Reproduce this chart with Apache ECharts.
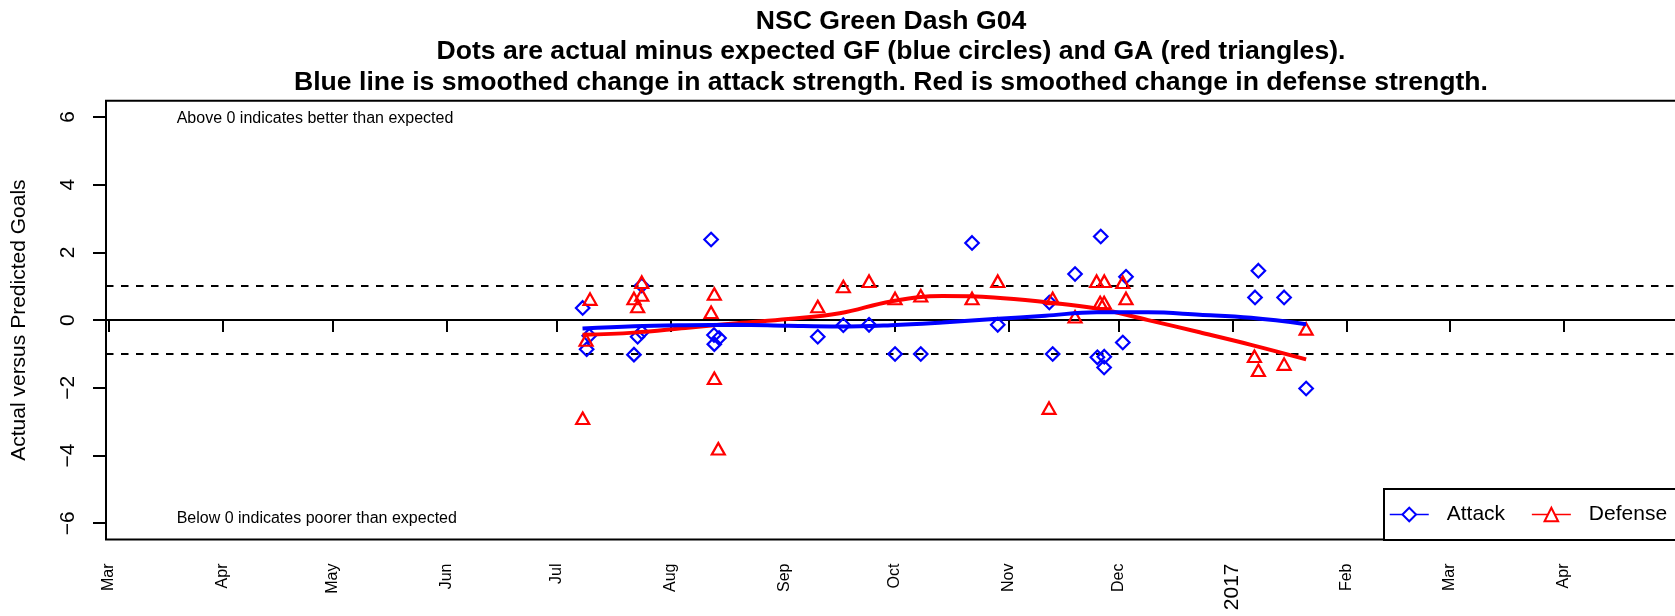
<!DOCTYPE html>
<html><head><meta charset="utf-8">
<script src="https://cdn.jsdelivr.net/npm/echarts@6/dist/echarts.min.js"></script>
<style>html,body{margin:0;padding:0;background:#fff}#c{width:1675px;height:616px}</style>
</head><body><div id="c"></div>
<script>
// ---------- data ----------
const titleLines = [
  'NSC Green Dash G04',
  'Dots are actual minus expected GF (blue circles) and GA (red triangles).',
  'Blue line is smoothed change in attack strength. Red is smoothed change in defense strength.'
];
const yAxisTitle = 'Actual versus Predicted Goals';
const noteAbove = 'Above 0 indicates better than expected';
const noteBelow = 'Below 0 indicates poorer than expected';
const seriesNames = ['Attack', 'Defense'];

const monthTickDates = ['2016-03-01','2016-04-01','2016-05-01','2016-06-01','2016-07-01','2016-08-01',
  '2016-09-01','2016-10-01','2016-11-01','2016-12-01','2017-01-01','2017-02-01','2017-03-01','2017-04-01'];
const monthTickLabels = ['Mar','Apr','May','Jun','Jul','Aug','Sep','Oct','Nov','Dec','2017','Feb','Mar','Apr'];
const yTicks = [-6, -4, -2, 0, 2, 4, 6];
const refLines = [0, 1, -1];

const attackDates = ['2016-07-08 01:00','2016-07-09 20:00','2016-07-09 03:00','2016-07-24 03:00','2016-07-24 03:00',
  '2016-07-23 00:00','2016-07-22 00:00','2016-08-12 00:00','2016-08-12 19:00','2016-08-14 04:00','2016-08-12 21:00',
  '2016-09-10 01:00','2016-09-17 00:00','2016-09-24 00:00','2016-10-01 02:00','2016-10-08 02:00','2016-10-22 01:00',
  '2016-10-29 01:00','2016-11-12 02:00','2016-11-13 00:00','2016-11-19 02:00','2016-11-26 02:00','2016-11-25 04:00',
  '2016-11-27 01:00','2016-11-27 00:00','2016-12-02 23:00','2016-12-02 02:00','2017-01-08 00:00','2017-01-07 02:00',
  '2017-01-15 00:00','2017-01-21 00:00'];
const attackValues = [0.36,-0.46,-0.86,1.02,-0.36,-0.49,-1.02,2.38,-0.44,-0.53,-0.71,
  -0.49,-0.15,-0.14,-1.00,-1.00,2.28,-0.14,0.52,-1.00,1.36,2.47,-1.10,-1.08,-1.40,1.28,-0.66,1.46,0.67,0.67,-2.02];

const defenseDates = ['2016-07-10 01:00','2016-07-08 23:00','2016-07-08 01:00','2016-07-24 03:00','2016-07-22 00:00',
  '2016-07-24 03:00','2016-07-23 00:00','2016-08-12 21:00','2016-08-12 00:00','2016-08-12 21:00','2016-08-13 23:00',
  '2016-09-10 01:00','2016-09-17 00:00','2016-09-24 00:00','2016-10-01 02:00','2016-10-08 02:00','2016-10-22 01:00',
  '2016-10-29 01:00','2016-11-13 00:00','2016-11-12 00:00','2016-11-19 02:00','2016-11-24 23:00','2016-11-27 01:00',
  '2016-11-25 22:00','2016-11-27 00:00','2016-12-02 02:00','2016-12-02 23:00','2017-01-06 22:00','2017-01-08 00:00',
  '2017-01-15 00:00','2017-01-21 00:00'];
const defenseValues = [0.62,-0.59,-2.90,1.12,0.64,0.74,0.40,0.77,0.23,-1.72,-3.80,
  0.40,0.99,1.15,0.64,0.72,0.64,1.15,0.64,-2.60,0.10,1.15,1.15,0.52,0.52,1.12,0.64,-1.07,-1.48,-1.30,-0.26];

const smoothDates = ['2016-07-08','2016-07-22','2016-08-05','2016-08-19','2016-09-02','2016-09-16','2016-09-30',
  '2016-10-14','2016-10-28','2016-11-11','2016-11-25','2016-12-09','2016-12-23','2017-01-06','2017-01-21'];
const attackSmoothValues = [-0.25,-0.18,-0.15,-0.14,-0.17,-0.19,-0.15,-0.07,0.03,0.13,0.23,0.23,0.16,0.07,-0.12];
const defenseSmoothValues = [-0.43,-0.37,-0.23,-0.09,0.03,0.20,0.55,0.71,0.67,0.53,0.34,0.00,-0.36,-0.73,-1.16];

// ---------- helpers ----------
const FONT = '"Liberation Sans", Arial, Helvetica, sans-serif';
const toMs = s => new Date(s.length === 10 ? s + 'T00:00:00' : s.replace(' ', 'T') + ':00').getTime();
const monthTickValues = monthTickDates.map(toMs);
const zip = (a, b) => a.map((d, i) => [toMs(d), b[i]]);
const fmtY = v => v < 0 ? '\u2212' + (-v) : String(v);

const chart = echarts.init(document.getElementById('c'), null, {renderer: 'canvas'});
chart.setOption({
  animation: false,
  backgroundColor: '#fff',
  title: {
    text: titleLines.join('\n'),
    left: 891, top: 6, textAlign: 'center', padding: 0,
    textStyle: {fontSize: 26.6, fontWeight: 'bold', fontFamily: FONT, color: '#000', lineHeight: 30.5}
  },
  grid: {left: 106, top: 100.7, right: -2, bottom: 76.5, show: true, borderColor: '#000', borderWidth: 2,
         backgroundColor: 'transparent', outerBoundsMode: 'none', containLabel: false},
  legend: {
    data: seriesNames, left: 1384, top: 489, orient: 'horizontal', width: 290,
    itemWidth: 39, itemHeight: 17, itemGap: 26,
    padding: [15, 10, 15, 5],
    backgroundColor: '#fff', borderColor: '#000', borderWidth: 2, borderRadius: 0,
    lineStyle: {width: 1.5},
    textStyle: {fontSize: 21, fontFamily: FONT, color: '#000', padding: [0, 0, 0, 13]},
    selectedMode: false
  },
  xAxis: {
    type: 'value', scale: true,
    min: toMs('2016-02-29 06:22'), max: toMs('2017-05-01 23:10'),
    axisLine: {show: false},
    splitLine: {show: false},
    axisTick: {show: true, customValues: monthTickValues, length: 12, lineStyle: {color: '#000', width: 2}},
    axisLabel: {
      show: true, customValues: monthTickValues, rotate: 90, margin: 24,
      fontSize: 16, fontFamily: FONT, color: '#000',
      formatter: function (v) {
        let idx = 0, best = Infinity;
        monthTickValues.forEach((t, i) => { const d = Math.abs(t - v); if (d < best) { best = d; idx = i; } });
        const lab = monthTickLabels[idx];
        return /^\d{4}$/.test(lab) ? '{yr|' + lab + '}' : lab;
      },
      rich: {yr: {fontSize: 21, fontFamily: FONT, color: '#000'}}
    }
  },
  yAxis: {
    type: 'value', min: -6.48, max: 6.48,
    name: yAxisTitle, nameLocation: 'middle', nameRotate: 90, nameGap: 76,
    nameTextStyle: {fontSize: 21, fontFamily: FONT, color: '#000'},
    axisLine: {show: false},
    splitLine: {show: false},
    axisTick: {show: true, customValues: yTicks, length: 13, lineStyle: {color: '#000', width: 2}},
    axisLabel: {show: true, customValues: yTicks, rotate: 90, margin: 27, fontSize: 21, fontFamily: FONT,
                color: '#000', formatter: fmtY}
  },
  graphic: [
    {type: 'text', x: 176.7, y: 118.3, silent: true,
     style: {text: noteAbove, fontSize: 16, fontFamily: FONT, fill: '#000', verticalAlign: 'middle', align: 'left'}},
    {type: 'text', x: 176.7, y: 519, silent: true,
     style: {text: noteBelow, fontSize: 16, fontFamily: FONT, fill: '#000', verticalAlign: 'middle', align: 'left'}}
  ],
  series: [
    {
      name: 'Attack points', type: 'scatter', silent: true,
      data: zip(attackDates, attackValues),
      symbol: 'diamond', symbolSize: [13.5, 13.5],
      itemStyle: {color: 'rgba(0,0,0,0)', borderColor: '#0000ff', borderWidth: 2.2, opacity: 1},
      markLine: {
        silent: true, symbol: 'none', z: 1, animation: false,
        label: {show: false},
        data: refLines.map(v => ({yAxis: v, lineStyle: v === 0
          ? {type: 'solid', width: 2, color: '#000'}
          : {type: [7.5, 7.5], width: 2, color: '#000'}}))
      }
    },
    {
      name: 'Defense points', type: 'scatter', silent: true,
      data: zip(defenseDates, defenseValues),
      symbol: 'triangle', symbolSize: [13, 11.5],
      itemStyle: {color: 'rgba(0,0,0,0)', borderColor: '#ff0000', borderWidth: 2.2, opacity: 1}
    },
    {
      name: seriesNames[1], type: 'line', silent: true,
      data: zip(smoothDates, defenseSmoothValues),
      smooth: 0.4,
      symbol: 'emptyTriangle', showSymbol: false,
      color: '#ff0000',
      lineStyle: {color: '#ff0000', width: 4}
    },
    {
      name: seriesNames[0], type: 'line', silent: true,
      data: zip(smoothDates, attackSmoothValues),
      smooth: 0.4,
      symbol: 'emptyDiamond', showSymbol: false,
      color: '#0000ff',
      lineStyle: {color: '#0000ff', width: 4}
    }
  ]
});
</script></body></html>
